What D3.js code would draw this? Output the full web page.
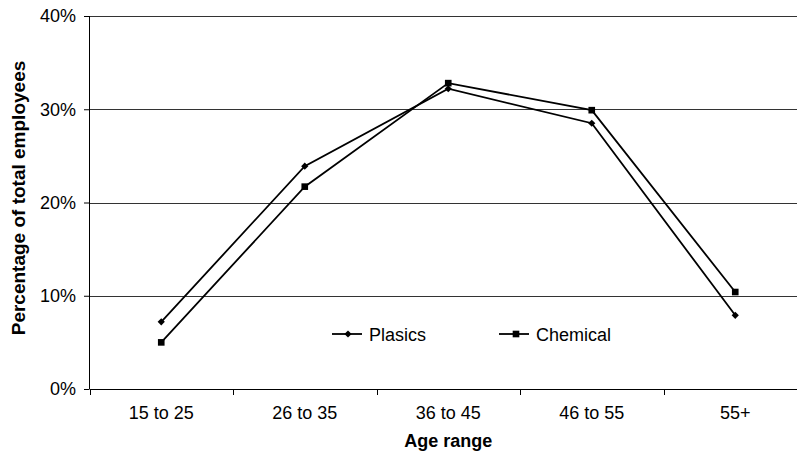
<!DOCTYPE html>
<html>
<head>
<meta charset="utf-8">
<script src="https://cdn.jsdelivr.net/npm/d3@7"></script>
<style>
  body { margin: 0; background: #fff; }
  svg { display: block; font-family: "Liberation Sans", Arial, sans-serif; }
</style>
</head>
<body>
<script>
// age bands on the x axis
var categories = ["15 to 25", "26 to 35", "36 to 45", "46 to 55", "55+"];
// percentage of total employees
var plastics = [7.2, 23.9, 32.2, 28.5, 7.9];
var chemical = [5.0, 21.7, 32.8, 29.9, 10.4];
var yTicks = [0, 10, 20, 30, 40];
var seriesNames = ["Plasics", "Chemical"];

var w = 797, h = 460;
// plot area runs a little past the right edge, as in the original crop
var plotLeft = 89.5, plotRight = 807, plotTop = 16, plotBottom = 389;
var fontSize = 18;

var svg = d3.select("body").append("svg")
    .attr("width", w)
    .attr("height", h);

var x = d3.scaleBand().domain(categories).range([plotLeft, plotRight]);
var y = d3.scaleLinear().domain([0, 40]).range([plotBottom, plotTop]);

// gridlines
svg.selectAll("line.grid")
   .data(yTicks.slice(1))
   .enter()
   .append("line")
   .attr("class", "grid")
   .attr("x1", plotLeft).attr("x2", plotRight)
   .attr("y1", function(d) { return Math.round(y(d)) + 0.5; })
   .attr("y2", function(d) { return Math.round(y(d)) + 0.5; })
   .attr("stroke", "#333")
   .attr("stroke-width", 1);

// y axis
var yAxis = d3.axisLeft(y)
    .tickValues(yTicks)
    .tickFormat(function(d) { return d + "%"; })
    .tickSize(5)
    .tickPadding(8);
svg.append("g")
   .attr("transform", "translate(" + Math.floor(plotLeft) + ",0)")
   .call(yAxis)
   .call(function(g) {
       g.selectAll("text").attr("font-size", fontSize).attr("font-family", "Liberation Sans, Arial").attr("fill", "#000");
       g.selectAll("line, path").attr("stroke", "#000");
       g.select(".domain").attr("d", "M0.5," + plotTop + "V" + plotBottom);
   });

// x axis with ticks between categories
svg.append("g")
   .attr("transform", "translate(0," + plotBottom + ")")
   .call(function(g) {
       g.append("line")
        .attr("x1", plotLeft).attr("x2", plotRight)
        .attr("y1", 0.5).attr("y2", 0.5)
        .attr("stroke", "#000");
       var edges = categories.map(function(c) { return x(c); }).concat([plotRight]);
       g.selectAll("line.tk")
        .data(edges)
        .enter()
        .append("line")
        .attr("class", "tk")
        .attr("x1", function(d) { return Math.round(d) + 0.5; })
        .attr("x2", function(d) { return Math.round(d) + 0.5; })
        .attr("y1", 0).attr("y2", 6)
        .attr("stroke", "#000");
       g.selectAll("text")
        .data(categories)
        .enter()
        .append("text")
        .attr("x", function(d) { return x(d) + x.bandwidth() / 2; })
        .attr("y", 30)
        .attr("text-anchor", "middle")
        .attr("font-size", fontSize)
        .text(function(d) { return d; });
   });

// axis titles
svg.append("text")
   .attr("x", (plotLeft + plotRight) / 2)
   .attr("y", 447)
   .attr("text-anchor", "middle")
   .attr("font-size", fontSize)
   .attr("font-weight", "bold")
   .text("Age range");

svg.append("text")
   .attr("transform", "translate(25,198) rotate(-90)")
   .attr("text-anchor", "middle")
   .attr("font-size", 19)
   .attr("font-weight", "bold")
   .text("Percentage of total employees");

// lines
var line = d3.line()
    .x(function(d, i) { return x(categories[i]) + x.bandwidth() / 2; })
    .y(function(d) { return y(d); });

// diamond = small square turned 45 degrees
var diamond = d3.symbol().type(d3.symbolSquare).size(26);
var square = d3.symbol().type(d3.symbolSquare).size(44);

[plastics, chemical].forEach(function(s, k) {
    svg.append("path")
       .attr("d", line(s))
       .attr("fill", "none")
       .attr("stroke", "#000")
       .attr("stroke-width", 1.8);
    svg.selectAll("path.m" + k)
       .data(s)
       .enter()
       .append("path")
       .attr("class", "m" + k)
       .attr("d", k == 0 ? diamond : square)
       .attr("transform", function(d, i) {
           return "translate(" + (x(categories[i]) + x.bandwidth() / 2) + "," + y(d) + ")" +
               (k == 0 ? " rotate(45)" : "");
       })
       .attr("fill", "#000");
});

// legend
var legendX = [332, 499];
seriesNames.forEach(function(name, k) {
    var g = svg.append("g").attr("transform", "translate(" + legendX[k] + ",334)");
    g.append("line")
     .attr("x1", 0).attr("x2", 30)
     .attr("stroke", "#000").attr("stroke-width", 1.8);
    g.append("path")
     .attr("d", k == 0 ? diamond : square)
     .attr("transform", "translate(" + (k == 0 ? 16 : 17) + ",0)" + (k == 0 ? " rotate(45)" : ""))
     .attr("fill", "#000");
    g.append("text")
     .attr("x", 37)
     .attr("y", 6.5)
     .attr("font-size", fontSize)
     .text(name);
});
</script>
</body>
</html>
